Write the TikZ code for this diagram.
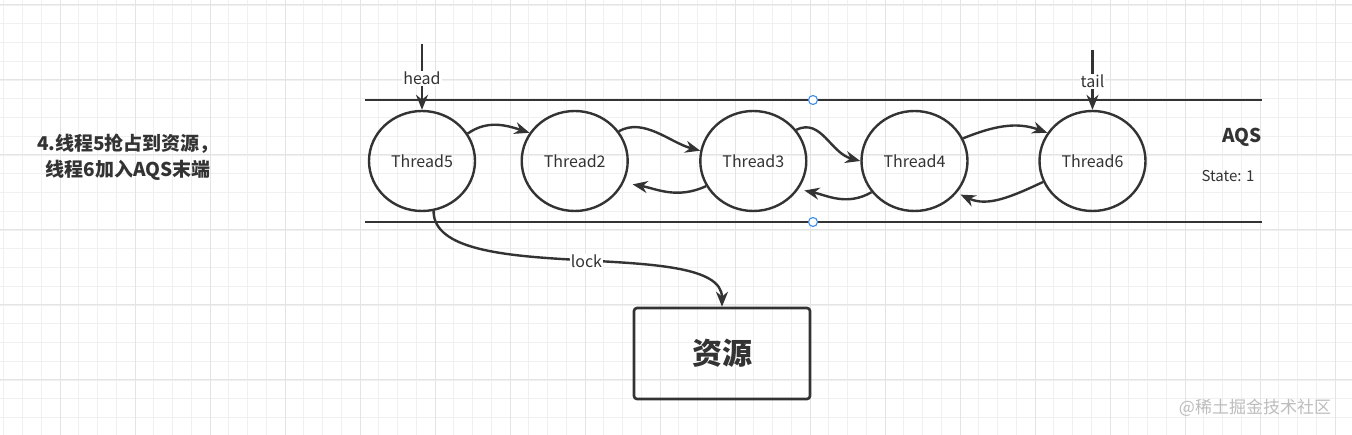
\documentclass[tikz,border=0pt]{standalone}
\usepackage{fontspec}
\setmainfont{Noto Sans CJK SC}
\usetikzlibrary{arrows.meta,shapes.geometric}
\definecolor{ink}{HTML}{333333}
\definecolor{gridminor}{HTML}{F0F0F0}
\definecolor{gridmajor}{HTML}{E4E4E4}
\definecolor{handle}{HTML}{3D8CE6}
\definecolor{wm}{HTML}{BDBDBD}
\tikzset{
  thr/.style={draw=ink, line width=2.4pt, ellipse, minimum width=106pt, minimum height=100pt, inner sep=0pt, text=ink, font=\fontsize{16}{19}\selectfont},
  link/.style={draw=ink, line width=2.4pt, -{Stealth[length=15pt,width=12pt]}},
  rail/.style={draw=ink, line width=2.6pt},
  lbl/.style={fill=white, text=ink, inner sep=1pt, font=\fontsize{16}{19}\selectfont},
  hnd/.style={draw=handle, fill=white, line width=1.1pt, circle, minimum size=9pt, inner sep=0pt},
  gminor/.style={draw=gridminor, line width=0.8pt},
  gmajor/.style={draw=gridmajor, line width=1pt}
}
\begin{document}
\begin{tikzpicture}[x=1pt,y=-1pt]
\useasboundingbox (0,0) rectangle (1352,435);
\fill[white] (0,0) rectangle (1352,435);
% grid
\foreach \i in {0,...,71} {\draw[gminor] ({3.75+18.75*\i},0) -- ++(0,435);}
\foreach \i in {0,...,23} {\draw[gminor] (0,{5+18.75*\i}) -- ++(1352,0);}
\foreach \i in {0,...,17} {\draw[gmajor] ({60+75*\i},0) -- ++(0,435);}
\foreach \i in {0,...,5} {\draw[gmajor] (0,{5+75*\i}) -- ++(1352,0);}

% rails
\coordinate (rtl) at (365,100);
\coordinate (rtr) at (1262,100);
\coordinate (rbl) at (365,222);
\coordinate (rbr) at (1262,222);
\draw[rail] (rtl) -- (rtr);
\draw[rail] (rbl) -- (rbr);
\node[hnd] (h1) at (813,100) {};
\node[hnd] (h2) at (813,222) {};

% threads
\node[thr] (t5) at (422,161) {Thread5};
\node[thr] (t2) at (574.7,161) {Thread2};
\node[thr] (t3) at (753.3,161) {Thread3};
\node[thr] (t4) at (914.5,161) {Thread4};
\node[thr] (t6) at (1092.5,161) {Thread6};

% head / tail
\coordinate (hs) at (422,44);
\coordinate (ts) at (1092.5,50);
\draw[link] (hs) -- node[lbl, pos=0.52] {head} (t5.north);
\draw[link] (ts) -- node[lbl, pos=0.52] {tail} (t6.north);

% forward links
\draw[link] (t5.31) to[out=35, in=162] (t2.148);
\draw[link] (t2.34) .. controls +(25,-14) and +(-30,-8) .. (t3.169);
\draw[link] (t3.36) .. controls +(25,-12) and +(-30,-8) .. (t4.180);
\draw[link] (t4.25) to[out=22, in=160] (t6.148);
% backward links
\draw[link, shorten >=9pt] (t3.208) to[out=205, in=-10] (t2.-24);
\draw[link, shorten >=6pt] (t4.216) to[out=210, in=-12] (t3.-32);
\draw[link, shorten >=4pt] (t6.203.5) to[out=205, in=-25] (t4.-37);

% resource
\node[draw=ink, line width=2.6pt, rounded corners=3pt, minimum width=176pt, minimum height=91pt, inner sep=0pt, text=ink, font=\fontsize{30}{34}\selectfont\bfseries] (res) at (722,353.5) {资源};
\draw[link] (t5.-77) .. controls +(0,78) and +(0,-72) .. node[lbl, pos=0.52] {lock} (res.north);

% side texts
\node[align=center, text=ink, font=\fontsize{19}{26}\selectfont\bfseries] (title) at (128,157) {4.线程5抢占到资源，\\线程6加入AQS末端};
\node[text=ink, font=\fontsize{19}{22}\selectfont\bfseries] (aqs) at (1242,137) {AQS};
\node[text=ink, font=\fontsize{15}{18}\selectfont] (state) at (1228,176) {State: 1};
\node[text=wm, font=\fontsize{17}{20}\selectfont] (wmk) at (1255,408) {@稀土掘金技术社区};
\end{tikzpicture}
\end{document}
